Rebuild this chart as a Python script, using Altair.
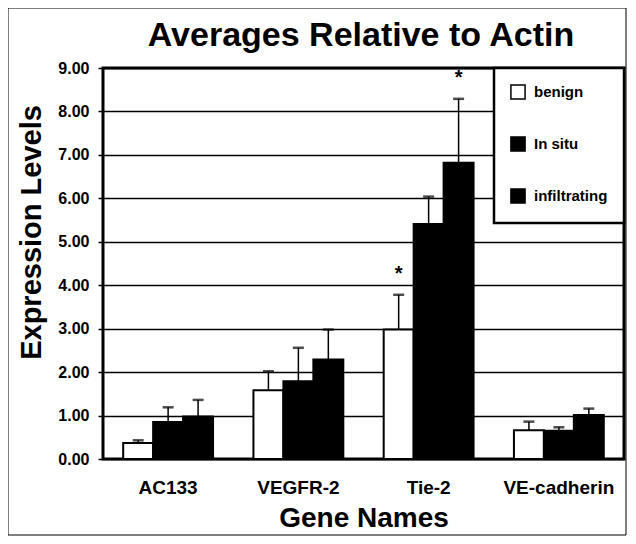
import altair as alt
import pandas as pd

genes = ["AC133", "VEGFR-2", "Tie-2", "VE-cadherin"]
groups = ["benign", "In situ", "infiltrating"]
benign = [0.37, 1.58, 2.98, 0.66]
in_situ = [0.85, 1.79, 5.41, 0.65]
infiltrating = [0.98, 2.29, 6.82, 1.01]
benign_err = [0.43, 2.02, 3.78, 0.86]
in_situ_err = [1.19, 2.56, 6.04, 0.73]
infiltrating_err = [1.36, 2.98, 8.29, 1.16]
star_gene = ["Tie-2", "Tie-2"]
star_group = ["benign", "infiltrating"]
star_y = [4.37, 8.88]
y_ticks = [0, 1, 2, 3, 4, 5, 6, 7, 8, 9]
title_text = ["Averages Relative to Actin"]

rows = []
for vals, errs, g in [(benign, benign_err, "benign"), (in_situ, in_situ_err, "In situ"),
                      (infiltrating, infiltrating_err, "infiltrating")]:
    for gene, v, e in zip(genes, vals, errs):
        rows.append({"gene": gene, "group": g, "value": v, "err": e})
df = pd.DataFrame(rows)
stars = pd.DataFrame({"gene": star_gene, "group": star_group, "y": star_y, "t": ["*", "*"]})

FONT = "Liberation Sans, Arial, Helvetica, sans-serif"
W, H = 521, 391

x = alt.X("gene:N", sort=genes,
          scale=alt.Scale(paddingInner=0.31, paddingOuter=0.155),
          axis=alt.Axis(title="Gene Names", labelAngle=0, ticks=False, domain=False,
                        labelFontSize=19, labelFontWeight="bold", labelPadding=19,
                        titleFontSize=28, titleFontWeight="bold", titlePadding=7,
                        labelColor="black", titleColor="black", labelFont=FONT, titleFont=FONT))
xo = alt.XOffset("group:N", sort=groups, scale=alt.Scale(paddingInner=0, paddingOuter=0))
yscale = alt.Scale(domain=[0, 9], nice=False)

bars = alt.Chart(df).mark_bar(stroke="black", strokeWidth=2).encode(
    x=x, xOffset=xo,
    y=alt.Y("value:Q", scale=yscale,
            axis=alt.Axis(title="Expression Levels", values=y_ticks, format=".2f",
                          grid=True, gridColor="black", gridWidth=1.5, gridOpacity=1,
                          domain=False, tickColor="black", tickSize=5, tickWidth=1.5,
                          labelFontSize=16, labelFontWeight="bold", labelPadding=9,
                          titleFontSize=29, titleFontWeight="bold",
                          titleX=-63, titleY=164, titleBaseline="alphabetic",
                          labelColor="black", titleColor="black", labelFont=FONT, titleFont=FONT)),
    fill=alt.Fill("group:N", sort=groups,
                  scale=alt.Scale(domain=groups, range=["white", "black", "black"]),
                  legend=alt.Legend(title=None, orient="top-right", offset=0,
                                    fillColor="white", strokeColor="black",
                                    padding=16, rowPadding=30, symbolType="square",
                                    symbolSize=200, symbolStrokeColor="black",
                                    symbolStrokeWidth=1.5, labelFontSize=15,
                                    labelFontWeight="bold", labelOffset=8,
                                    labelColor="black", labelFont=FONT)),
)

rules = alt.Chart(df).mark_rule(color="black", strokeWidth=1.5).encode(
    x=x, xOffset=xo, y=alt.Y("value:Q", scale=yscale), y2="err:Q")

caps = alt.Chart(df).mark_tick(color="black", orient="horizontal", size=11, thickness=2.5).encode(
    x=x, xOffset=xo, y=alt.Y("err:Q", scale=yscale))

star_marks = alt.Chart(stars).mark_text(fontSize=20, fontWeight="bold", font=FONT,
                                        color="black", baseline="middle", dy=5).encode(
    x=x, xOffset=xo, y=alt.Y("y:Q", scale=yscale), text="t:N")

title_mark = alt.Chart(pd.DataFrame({"t": title_text})).mark_text(
    fontSize=34, fontWeight="bold", font=FONT, color="black",
    align="center", baseline="alphabetic").encode(
    x=alt.value(258), y=alt.value(-22), text="t:N")

border = alt.Chart(pd.DataFrame({"a": [0]})).mark_rect(
    filled=False, stroke="black", strokeWidth=1).encode(
    x=alt.value(-95), x2=alt.value(523), y=alt.value(-60), y2=alt.value(467))

chart = alt.layer(bars, rules, caps, star_marks, title_mark, border).properties(
    width=W, height=H,
    background="white",
    autosize=alt.AutoSizeParams(type="none"),
    padding={"left": 95, "top": 60, "right": 4, "bottom": 77},
).configure_view(stroke="black", strokeWidth=3).configure_legend(strokeWidth=2.5)

chart.save("out.html", embed_options={"renderer": "svg", "actions": False})
